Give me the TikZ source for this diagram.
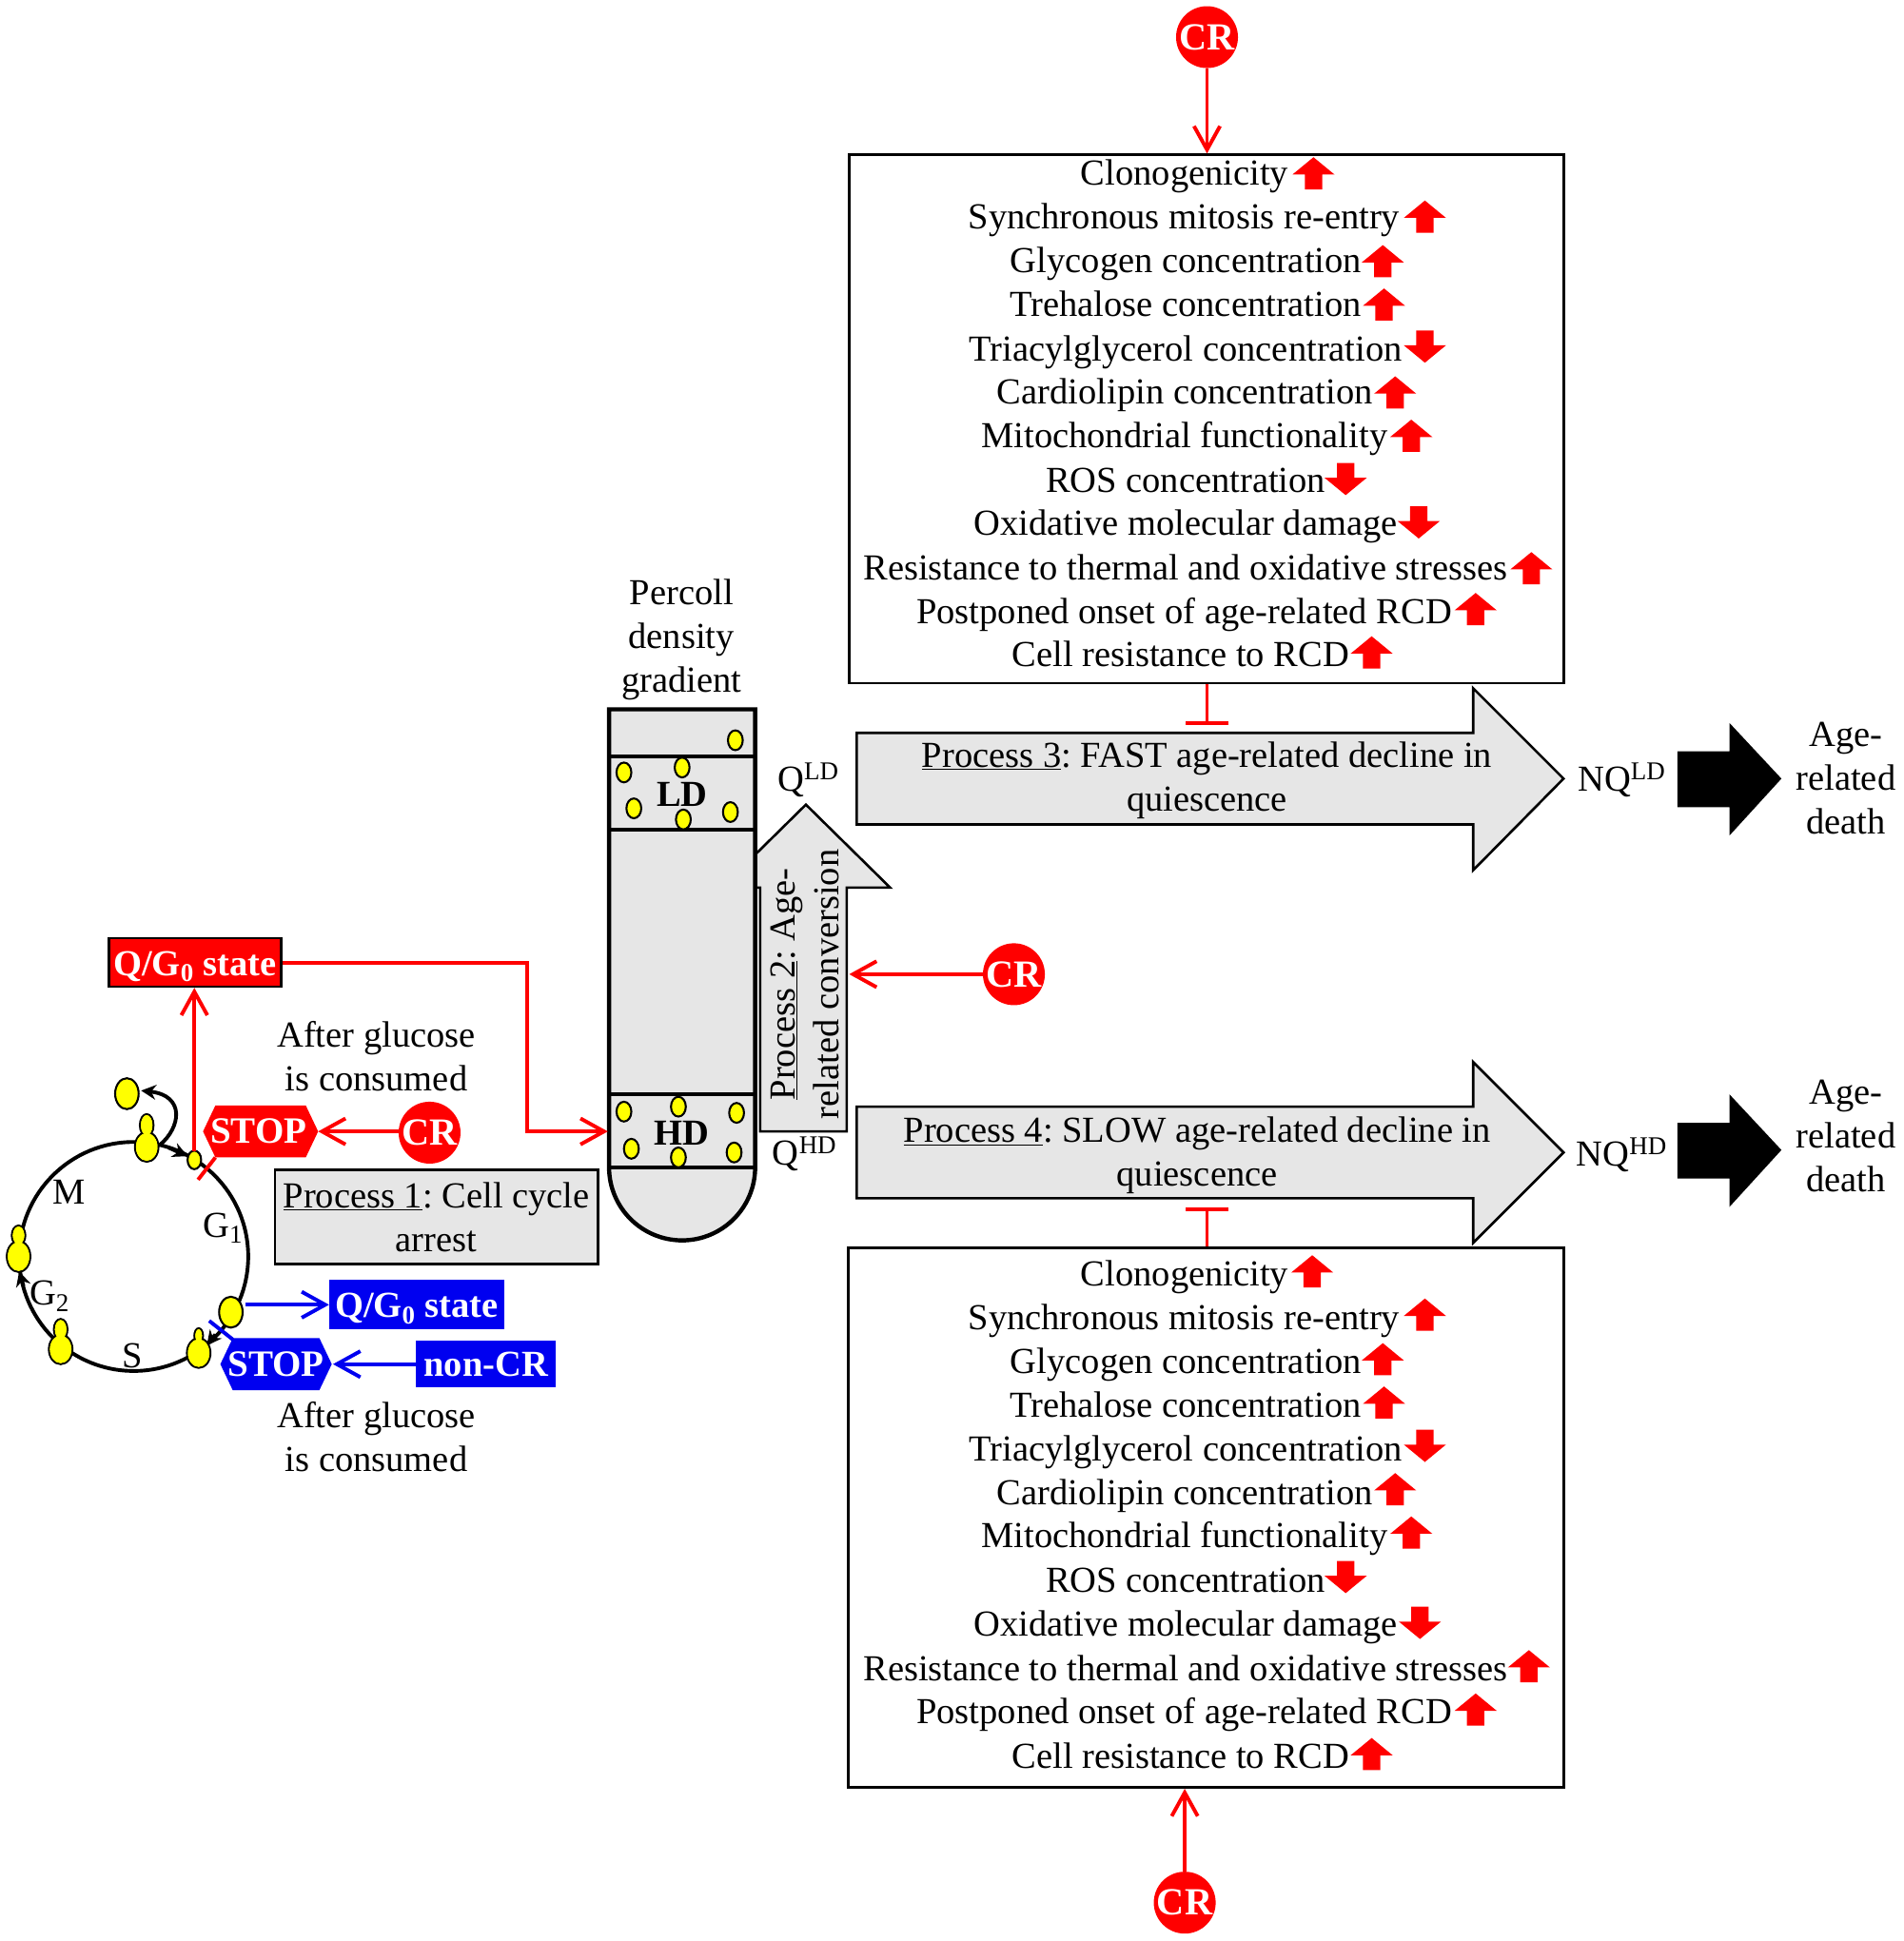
\documentclass[tikz,border=0pt]{standalone}
\usepackage{fontspec}
\setmainfont{Liberation Serif}
\usetikzlibrary{arrows.meta}
\frenchspacing
\definecolor{panelgray}{HTML}{E6E6E6}
\definecolor{cyred}{HTML}{FF0000}
\definecolor{cyblue}{HTML}{0000F0}
\definecolor{cellyel}{HTML}{FFFF00}
\newcommand{\bigfont}{\fontsize{29.6}{35.4}\selectfont}
\newcommand{\arrowup}[2]{\fill[cyred,shift={(#1,#2)}] (0,-13)--(17,1)--(7,1)--(7,13)--(-7,13)--(-7,1)--(-17,1)--cycle;}
\newcommand{\arrowdn}[2]{\fill[cyred,shift={(#1,#2)}] (0,13)--(17,-1)--(7,-1)--(7,-13)--(-7,-13)--(-7,-1)--(-17,-1)--cycle;}
\newcommand{\statrow}[4]{\node[stat] (#1) at (#2,#3+9.5) {#4};}
\newcommand{\ycell}[4]{\draw[cell] (#1,#2) ellipse [x radius=#3,y radius=#4];}
% budding cell: x, y big, ry big, y bud, rx bud, ry bud; outline merged
\newcommand{\budcell}[6]{%
  \draw[cell] (#1,#2) ellipse [x radius=9.5,y radius=#3];
  \draw[cell] (#1,#4) ellipse [x radius=#5,y radius=#6];
  \fill[cellyel] (#1,#2) ellipse [x radius=8.7,y radius=#3-0.8];
  \fill[cellyel] (#1,#4) ellipse [x radius=#5-0.8,y radius=#6-0.8];}
\tikzset{
  stat/.style={anchor=base east,inner sep=0pt,font=\bigfont},
  txt/.style={inner sep=0pt,font=\bigfont,align=center},
  cell/.style={fill=cellyel,draw=black,line width=1.6pt},
  panel/.style={draw=black,fill=panelgray,line width=2pt},
  whitebox/.style={draw=black,fill=white,line width=2pt,inner sep=0pt},
  crnode/.style={circle,fill=cyred,text=white,inner sep=0pt,minimum size=50pt,font=\fontsize{31}{35}\selectfont\bfseries},
  wtxt/.style={text=white,inner sep=0pt,font=\fontsize{30}{35}\selectfont\bfseries},
  redarrow/.style={draw=cyred,line width=3pt,-{Straight Barb[length=19pt,width=21pt,line width=3pt]}},
  bluearrow/.style={draw=cyblue,line width=3pt,-{Straight Barb[length=19pt,width=21pt,line width=3pt]}},
  tbar/.style={draw=cyred,line width=3pt,-{Bar[width=34pt,line width=3.4pt]}},
  cyc/.style={draw=black,line width=3pt},
  cycarrow/.style={draw=black,line width=3pt,-{Stealth[length=12pt,width=12pt]}},
  tubeline/.style={draw=black,line width=3pt},
}
\begin{document}
\begin{tikzpicture}[x=1pt,y=-1pt]
\useasboundingbox (0,0) rectangle (1537.25,1568);
% ---------- top statistics box
\node[crnode] (crtop) at (975,30) {CR};
\node[whitebox,minimum width=577pt,minimum height=427pt] (topbox) at (974.5,338.5) {};
\draw[redarrow] (crtop.south) -- (crtop.south |- topbox.north);
\statrow{a1}{1041}{140}{Clonogenicity}\arrowup{1061}{140}
\statrow{a2}{1131}{175}{Synchronous mitosis re-entry}\arrowup{1151}{175}
\statrow{a3}{1100}{211}{Glycogen concentration}\arrowup{1117}{211}
\statrow{a4}{1100}{246}{Trehalose concentration}\arrowup{1118}{246}
\statrow{a5}{1133}{282}{Triacylglycerol concentration}\arrowdn{1151}{280}
\statrow{a6}{1109}{317}{Cardiolipin concentration}\arrowup{1127}{317}
\statrow{a7}{1121}{352}{Mitochondrial functionality}\arrowup{1140}{352}
\statrow{a8}{1071}{388}{ROS concentration}\arrowdn{1087}{387}
\statrow{a9}{1129}{423}{Oxidative molecular damage}\arrowdn{1146}{422}
\statrow{a10}{1218}{459}{Resistance to thermal and oxidative stresses}\arrowup{1237}{459}
\statrow{a11}{1173}{494}{Postponed onset of age-related RCD}\arrowup{1192}{492}
\statrow{a12}{1090}{529}{Cell resistance to RCD}\arrowup{1108}{527}
% ---------- bottom statistics box
\node[whitebox,minimum width=578pt,minimum height=436pt] (botbox) at (974,1226) {};
\node[crnode] (crbot) at (957,1537) {CR};
\draw[redarrow] (crbot.north) -- (crbot.north |- botbox.south);
\statrow{b1}{1041}{1029}{Clonogenicity}\arrowup{1060}{1027}
\statrow{b2}{1131}{1065}{Synchronous mitosis re-entry}\arrowup{1151}{1062}
\statrow{b3}{1100}{1100}{Glycogen concentration}\arrowup{1117}{1098}
\statrow{b4}{1100}{1135}{Trehalose concentration}\arrowup{1118}{1133}
\statrow{b5}{1133}{1171}{Triacylglycerol concentration}\arrowdn{1151}{1168}
\statrow{b6}{1109}{1206}{Cardiolipin concentration}\arrowup{1127}{1203}
\statrow{b7}{1121}{1241}{Mitochondrial functionality}\arrowup{1140}{1238}
\statrow{b8}{1071}{1277}{ROS concentration}\arrowdn{1087}{1274}
\statrow{b9}{1129}{1312}{Oxidative molecular damage}\arrowdn{1147}{1311}
\statrow{b10}{1218}{1348}{Resistance to thermal and oxidative stresses}\arrowup{1235}{1346}
\statrow{b11}{1173}{1383}{Postponed onset of age-related RCD}\arrowup{1192}{1381}
\statrow{b12}{1090}{1419}{Cell resistance to RCD}\arrowup{1108}{1417}
% ---------- process 3, 4 arrows
\draw[panel] (692,592)--(1190,592)--(1190,556)--(1263,629)--(1190,703)--(1190,666)--(692,666)--cycle;
\node[txt] (p3) at (975,630.5) {\underline{Process 3}: FAST age-related decline in\\quiescence};
\coordinate (bar3) at (975,586);
\draw[tbar] (topbox.south -| bar3) -- (bar3);
\draw[panel] (692,894)--(1190,894)--(1190,858)--(1263,931)--(1190,1004)--(1190,968)--(692,968)--cycle;
\node[txt] (p4) at (967,933.5) {\underline{Process 4}: SLOW age-related decline in\\quiescence};
\coordinate (bar4) at (975,975);
\draw[tbar] (botbox.north -| bar4) -- (bar4);
% ---------- right side
\node[txt] (nqld) at (1310,630) {NQ\textsuperscript{LD}};
\node[txt] (nqhd) at (1310,933) {NQ\textsuperscript{HD}};
\fill[black] (1355,607)--(1397,607)--(1397,584)--(1439,629)--(1397,675)--(1397,652)--(1355,652)--cycle;
\fill[black] (1355,907)--(1397,907)--(1397,884)--(1439,929)--(1397,975)--(1397,952)--(1355,952)--cycle;
\node[txt] (deathld) at (1491,629) {Age-\\related\\death};
\node[txt] (deathhd) at (1491,918) {Age-\\related\\death};
% ---------- process 2 arrow
\draw[panel] (614,914)--(684,914)--(684,717)--(719,717)--(651,650)--(583,717)--(614,717)--cycle;
\node[txt,rotate=90] (p2) at (650,795) {\underline{Process 2}: Age-\\related conversion};
\node[crnode] (crmid) at (819,787) {CR};
\coordinate (p2edge) at (686,787);
\draw[redarrow] (crmid.west) -- (p2edge);
\node[txt] (qld) at (653,630) {Q\textsuperscript{LD}};
\node[txt] (qhd) at (650,932) {Q\textsuperscript{HD}};
% ---------- tube
\node[txt] (percoll) at (550.5,517) {Percoll\\density\\gradient};
\draw[fill=panelgray,draw=black,line width=3.4pt] (492,573)--(610,573)--(610,943) arc (0:180:59) --cycle;
\draw[tubeline] (492,611)--(610,611);
\draw[tubeline] (492,670)--(610,670);
\draw[tubeline] (492,884)--(610,884);
\draw[tubeline] (492,943)--(610,943);
\coordinate (tubeleft) at (491,914);
\node[inner sep=0pt,font=\bigfont\bfseries] (ld) at (551,642) {LD};
\node[inner sep=0pt,font=\bigfont\bfseries] (hd) at (551,915) {HD};
\ycell{594}{598}{6}{8}\ycell{504}{624}{6}{8}\ycell{551}{620}{6}{8}\ycell{512}{653}{6}{8}\ycell{590}{656}{6}{8}\ycell{552}{662}{6}{8}
\ycell{504}{898}{6}{8}\ycell{548}{894}{6}{8}\ycell{595}{899}{6}{8}\ycell{510}{928}{6}{8}\ycell{548}{935}{6}{8}\ycell{593}{931}{6}{8}
% ---------- cell cycle
\draw[cyc] (108,1015) circle [radius=92.5];
\draw[cycarrow] (136,927) -- (151.5,934);
\draw[cycarrow] (19,1039) -- (15.5,1027);
\draw[cycarrow] (174,1078) -- (167,1087);
\draw[cycarrow] (129,925) .. controls (146,911) and (150,885) .. (114,881);
\ycell{102.5}{883.5}{9.5}{12.5}
\budcell{118.5}{926.5}{12}{909}{5.5}{9}
\ycell{157}{937}{5.5}{7.5}
\ycell{186.5}{1060}{9.5}{12.5}
\budcell{160.5}{1093}{12}{1079}{3.5}{6}
\budcell{49}{1090}{12}{1074}{5.5}{8.5}
\budcell{15}{1015}{12.5}{998}{5.5}{8}
\node[txt] (lm) at (56,963) {M};
\node[txt] (lg1) at (180,992) {G\textsubscript{1}};
\node[txt] (lg2) at (40,1047) {G\textsubscript{2}};
\node[txt] (ls) at (107,1095) {S};
% ---------- red branch
\node[draw=black,fill=cyred,line width=2pt,inner sep=0pt,minimum width=139pt,minimum height=39pt,text height=24pt,text depth=3pt,text=white,font=\fontsize{29.6}{35}\selectfont\bfseries] (qred) at (157.5,777.5) {Q/G\textsubscript{0} state};
\coordinate (smallcell) at (157,930);
\draw[redarrow] (smallcell) -- (smallcell |- qred.south);
\draw[redarrow] (qred.east) -- (426,777.5) -- (426,914) -- (tubeleft);
\node[txt] (glu1) at (304,853.5) {After glucose\\is consumed};
\fill[cyred] (164,914)--(174,893)--(247,893)--(257,914)--(247,935)--(174,935)--cycle;
\node[wtxt] (stopred) at (209,914) {STOP};
\node[crnode] (crstop) at (347,915) {CR};
\coordinate (stopredtip) at (257,914);
\draw[redarrow] (crstop.west |- stopredtip) -- (stopredtip);
\coordinate (tr1) at (160,953);
\coordinate (tr2) at (174,935);
\draw[draw=cyred,line width=3pt] (tr1) -- (tr2);
\node[panel,minimum width=261pt,minimum height=76pt,inner sep=0pt,txt] (p1) at (352.5,983) {\underline{Process 1}: Cell cycle\\arrest};
% ---------- blue branch
\node[fill=cyblue,inner sep=0pt,minimum width=141pt,minimum height=40pt,text height=23pt,text depth=3pt,text=white,font=\fontsize{29.6}{35}\selectfont\bfseries] (qblue) at (336.5,1054) {Q/G\textsubscript{0} state};
\coordinate (bluecell) at (198,1054);
\draw[bluearrow] (bluecell) -- (qblue.west);
\fill[cyblue] (178,1102)--(188,1081)--(258,1081)--(268,1102)--(258,1123)--(188,1123)--cycle;
\node[wtxt] (stopblue) at (223,1102) {STOP};
\node[fill=cyblue,inner sep=0pt,minimum width=113pt,minimum height=38pt,text=white,font=\fontsize{29.6}{35}\selectfont\bfseries] (noncr) at (392.5,1102) {non-CR};
\coordinate (stopbluetip) at (269,1102);
\draw[bluearrow] (noncr.west) -- (stopbluetip);
\coordinate (tb1) at (169,1067);
\coordinate (tb2) at (188,1082);
\draw[draw=cyblue,line width=3pt] (tb1) -- (tb2);
\node[txt] (glu2) at (304,1160.5) {After glucose\\is consumed};
\end{tikzpicture}
\end{document}
